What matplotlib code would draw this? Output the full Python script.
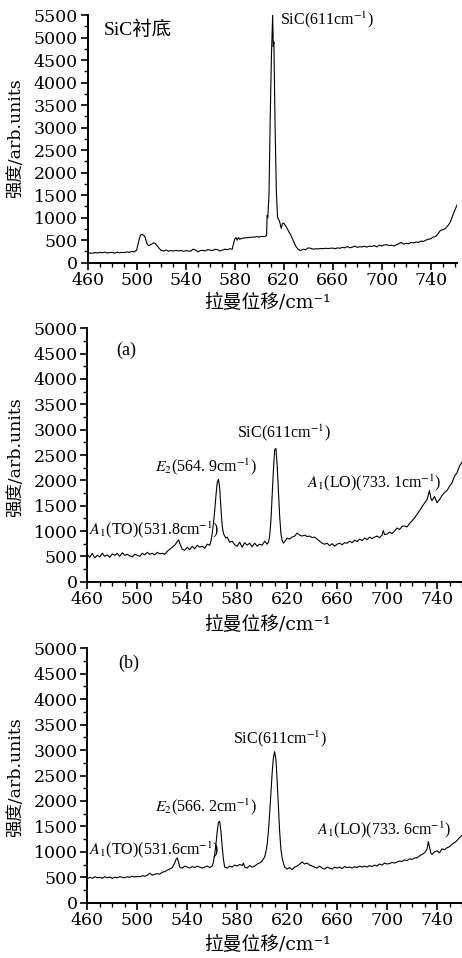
import numpy as np
import matplotlib
matplotlib.use("Agg")
import matplotlib.pyplot as plt
from matplotlib.ticker import MultipleLocator

plt.rcParams["font.family"] = ["DejaVu Serif", "Noto Sans CJK SC"]
plt.rcParams["mathtext.fontset"] = "stix"

# SiC substrate spectrum
x_sub = [460, 462, 464, 466, 468, 470, 472, 474, 476, 478, 480, 482, 484, 486, 488, 490, 492, 494, 496, 498,
         500, 502, 503, 504, 505, 506, 507, 508, 509, 510, 512, 513, 514, 515, 516, 518, 520, 522, 524, 526,
         528, 530, 532, 534, 536, 538, 540, 542, 544, 546, 548, 550, 552, 554, 556, 558, 560, 562, 564, 566,
         568, 570, 572, 574, 576, 578, 579, 580, 581, 582, 583, 584, 586, 588, 590, 592, 594, 596, 598, 600,
         602, 604, 605, 606, 606.5, 607, 608, 609, 610, 611, 611.5, 612, 613, 614, 615, 616, 617, 618, 619, 620,
         621, 622, 624, 626, 628, 630, 632, 634, 636, 638, 640, 642, 644, 646, 648, 650, 652, 654, 656, 658,
         660, 662, 664, 666, 668, 670, 672, 674, 676, 678, 680, 682, 684, 686, 688, 690, 692, 694, 696, 698,
         700, 702, 704, 706, 708, 710, 712, 714, 716, 718, 720, 722, 724, 726, 728, 730, 732, 734, 736, 738,
         740, 742, 744, 746, 748, 750, 752, 754, 756, 758, 760, 761.5]
y_sub = [220, 215, 210, 225, 215, 230, 220, 235, 215, 225, 230, 210, 235, 220, 230, 225, 240, 230, 250, 240,
         280, 520, 610, 630, 620, 600, 560, 450, 400, 380, 410, 430, 440, 430, 400, 330, 270, 260, 280, 255,
         270, 260, 275, 260, 270, 255, 265, 260, 255, 300, 280, 240, 270, 275, 260, 290, 280, 270, 300, 290,
         260, 280, 300, 290, 310, 300, 420, 520, 560, 500, 560, 520, 540, 550, 555, 560, 570, 565, 580, 570,
         585, 580, 590, 600, 1050, 1000, 1500, 3200, 4600, 5500, 4800, 4900, 3000, 1600, 1000, 960, 880, 760, 870, 880,
         840, 800, 700, 600, 480, 360, 290, 270, 300, 290, 330, 320, 300, 310, 305, 315, 310, 320, 315, 320,
         325, 310, 330, 320, 340, 330, 360, 330, 345, 370, 340, 355, 350, 365, 345, 370, 360, 380, 350, 390,
         370, 395, 400, 380, 390, 370, 400, 420, 450, 410, 430, 420, 450, 440, 460, 450, 480, 470, 500, 520,
         530, 570, 580, 640, 720, 730, 760, 820, 900, 1050, 1180, 1280]

# sample (a)
x_a = [460, 462, 464, 466, 468, 470, 472, 474, 476, 478, 480, 482, 484, 486, 488, 490, 492, 494, 496, 498,
       500, 502, 504, 506, 508, 510, 512, 514, 516, 518, 520, 522, 524, 526, 528, 530, 532, 533, 534, 536,
       538, 540, 542, 544, 546, 548, 550, 552, 554, 556, 558, 559, 560, 561, 562, 563, 564, 565, 566, 567,
       568, 569, 570, 571, 572, 574, 576, 578, 580, 582, 584, 586, 588, 590, 592, 594, 596, 598, 600, 602,
       604, 605, 606, 607, 608, 609, 610, 611, 612, 613, 614, 615, 616, 617, 618, 620, 622, 624, 626, 628,
       630, 632, 634, 636, 638, 640, 642, 644, 646, 648, 650, 652, 654, 656, 658, 660, 662, 664, 666, 668,
       670, 672, 674, 676, 678, 680, 682, 684, 686, 688, 690, 692, 694, 696, 697, 698, 700, 702, 704, 706,
       708, 710, 712, 714, 716, 718, 720, 722, 724, 726, 728, 730, 732, 734, 735, 736, 738, 740, 742, 744,
       746, 748, 750, 752, 754, 756, 758, 760]
y_a = [540, 480, 560, 470, 520, 490, 560, 500, 530, 480, 550, 520, 560, 500, 570, 520, 540, 510, 490, 540,
       520, 500, 560, 530, 580, 540, 560, 530, 580, 550, 560, 540, 600, 640, 680, 720, 790, 830, 760, 640,
       620, 680, 630, 700, 650, 720, 680, 700, 660, 740, 720, 800, 950, 1150, 1400, 1700, 1950, 2020, 1850, 1450,
       1100, 950, 900, 860, 880, 780, 800, 730, 700, 780, 680, 770, 720, 760, 690, 760, 700, 740, 720, 800,
       740, 780, 900, 1200, 1700, 2200, 2600, 2630, 2300, 1800, 1300, 950, 820, 760, 790, 860, 840, 880, 900, 960,
       920, 900, 920, 890, 900, 870, 880, 840, 800, 760, 740, 760, 710, 750, 700, 740, 760, 730, 770, 760,
       800, 770, 820, 790, 840, 810, 860, 830, 880, 850, 880, 900, 870, 920, 1010, 930, 940, 980, 950, 1000,
       1060, 1030, 1090, 1100, 1080, 1150, 1200, 1260, 1330, 1400, 1480, 1550, 1620, 1800, 1650, 1600, 1680, 1560, 1620, 1700,
       1760, 1800, 1880, 1950, 2080, 2150, 2280, 2360]

# sample (b)
x_b = [460, 462, 464, 466, 468, 470, 472, 474, 476, 478, 480, 482, 484, 486, 488, 490, 492, 494, 496, 498,
       500, 502, 504, 506, 508, 510, 512, 514, 516, 518, 520, 522, 524, 526, 528, 530, 531, 532, 533, 534,
       536, 538, 540, 542, 544, 546, 548, 550, 552, 554, 556, 558, 560, 561, 562, 563, 564, 565, 566, 567,
       568, 569, 570, 572, 574, 576, 578, 580, 582, 584, 585, 586, 588, 590, 592, 594, 596, 598, 600, 602,
       603, 604, 605, 606, 607, 608, 609, 610, 611, 612, 613, 614, 615, 616, 617, 618, 620, 622, 624, 626,
       628, 630, 632, 634, 636, 638, 640, 642, 644, 646, 648, 650, 652, 654, 656, 658, 660, 662, 664, 666,
       668, 670, 672, 674, 676, 678, 680, 682, 684, 686, 688, 690, 692, 694, 696, 698, 700, 702, 704, 706,
       708, 710, 712, 714, 716, 718, 720, 722, 724, 726, 728, 730, 732, 733, 734, 735, 736, 738, 740, 742,
       744, 746, 748, 750, 752, 754, 756, 758, 760]
y_b = [470, 500, 480, 510, 490, 500, 480, 510, 490, 505, 480, 500, 490, 510, 500, 490, 510, 500, 520, 505,
       515, 510, 530, 520, 540, 580, 540, 560, 570, 560, 600, 610, 640, 660, 690, 780, 850, 880, 800, 700,
       680, 720, 700, 680, 710, 690, 720, 700, 680, 700, 720, 690, 720, 800, 950, 1150, 1400, 1580, 1600, 1400,
       1100, 850, 700, 680, 720, 700, 740, 720, 750, 730, 780, 700, 680, 730, 700, 720, 760, 780, 820, 900,
       1000, 1150, 1400, 1750, 2150, 2550, 2850, 2970, 2820, 2400, 1900, 1400, 1050, 880, 780, 700, 660, 690, 650, 700,
       720, 760, 800, 760, 780, 740, 720, 700, 680, 720, 680, 660, 700, 680, 660, 700, 680, 700, 670, 710,
       690, 700, 680, 710, 690, 720, 700, 720, 700, 730, 710, 740, 720, 760, 740, 780, 760, 770, 790, 780,
       800, 820, 810, 840, 830, 860, 850, 880, 880, 920, 950, 980, 1050, 1200, 1100, 980, 950, 1000, 1020, 980,
       1060, 1040, 1080, 1100, 1150, 1180, 1220, 1280, 1320]

x_ticks = [460, 500, 540, 580, 620, 660, 700, 740]

W, H = 462, 958
fig = plt.figure(figsize=(W / 100, H / 100), dpi=100)


def box(left, top, right, bottom):
    return [left / W, 1 - bottom / H, (right - left) / W, (bottom - top) / H]


def style(ax, xmax, ymax):
    ax.set_xlim(460, xmax)
    ax.set_ylim(0, ymax)
    ax.spines["top"].set_visible(False)
    ax.spines["right"].set_visible(False)
    ax.spines["left"].set_linewidth(1.4)
    ax.spines["bottom"].set_linewidth(1.4)
    ax.set_xticks(x_ticks)
    ax.xaxis.set_minor_locator(MultipleLocator(10))
    ax.yaxis.set_major_locator(MultipleLocator(500))
    ax.yaxis.set_minor_locator(MultipleLocator(250))
    ax.tick_params(which="major", direction="out", length=5, width=1.2, labelsize=12.5, pad=2)
    ax.tick_params(which="minor", direction="out", length=3, width=1.0)


ann = dict(fontsize=11.5, va="center", family="Liberation Serif")

ax1 = fig.add_axes(box(87.7, 15, 457, 262.7))
ax1.plot(x_sub, y_sub, color="black", lw=0.8)
style(ax1, 761.5, 5500)
ax1.text(473, 5170, "SiC衬底", fontsize=14, va="center", ha="left",
         family=["Liberation Serif", "Noto Sans CJK SC"])
ax1.text(617, 5390, "SiC(611cm$^{-1}$)", ha="left", **ann)

ax2 = fig.add_axes(box(87.3, 328.3, 462, 581.7))
ax2.plot(x_a, y_a, color="black", lw=0.8)
style(ax2, 760, 5000)
ax2.text(483, 4570, "(a)", fontsize=13, va="center", ha="left", family="Liberation Serif")
ax2.text(617, 2930, "SiC(611cm$^{-1}$)", ha="center", **ann)
ax2.text(555, 2270, "$E_2$(564. 9cm$^{-1}$)", ha="center", **ann)
ax2.text(461, 1020, "$A_1$(TO)(531.8cm$^{-1}$)", ha="left", **ann)
ax2.text(636, 1954, "$A_1$(LO)(733. 1cm$^{-1}$)", ha="left", **ann)

ax3 = fig.add_axes(box(87.3, 648.3, 462, 902.7))
ax3.plot(x_b, y_b, color="black", lw=0.8)
style(ax3, 760, 5000)
ax3.text(485, 4713, "(b)", fontsize=13, va="center", ha="left", family="Liberation Serif")
ax3.text(614, 3218, "SiC(611cm$^{-1}$)", ha="center", **ann)
ax3.text(555, 1888, "$E_2$(566. 2cm$^{-1}$)", ha="center", **ann)
ax3.text(461, 1050, "$A_1$(TO)(531.6cm$^{-1}$)", ha="left", **ann)
ax3.text(644, 1430, "$A_1$(LO)(733. 6cm$^{-1}$)", ha="left", **ann)

fam = ["DejaVu Serif", "Noto Sans CJK SC"]
for yc, xl in [(138.5, 303), (457, 625), (777.5, 945)]:
    fig.text(16 / W, 1 - yc / H, "强度/arb.units", rotation=90, fontsize=12.5,
             ha="center", va="center", family=fam)
    fig.text(268 / W, 1 - xl / H, "拉曼位移/cm⁻¹", fontsize=13.5,
             ha="center", va="center", family=fam)

plt.savefig("out.png", dpi=100)
